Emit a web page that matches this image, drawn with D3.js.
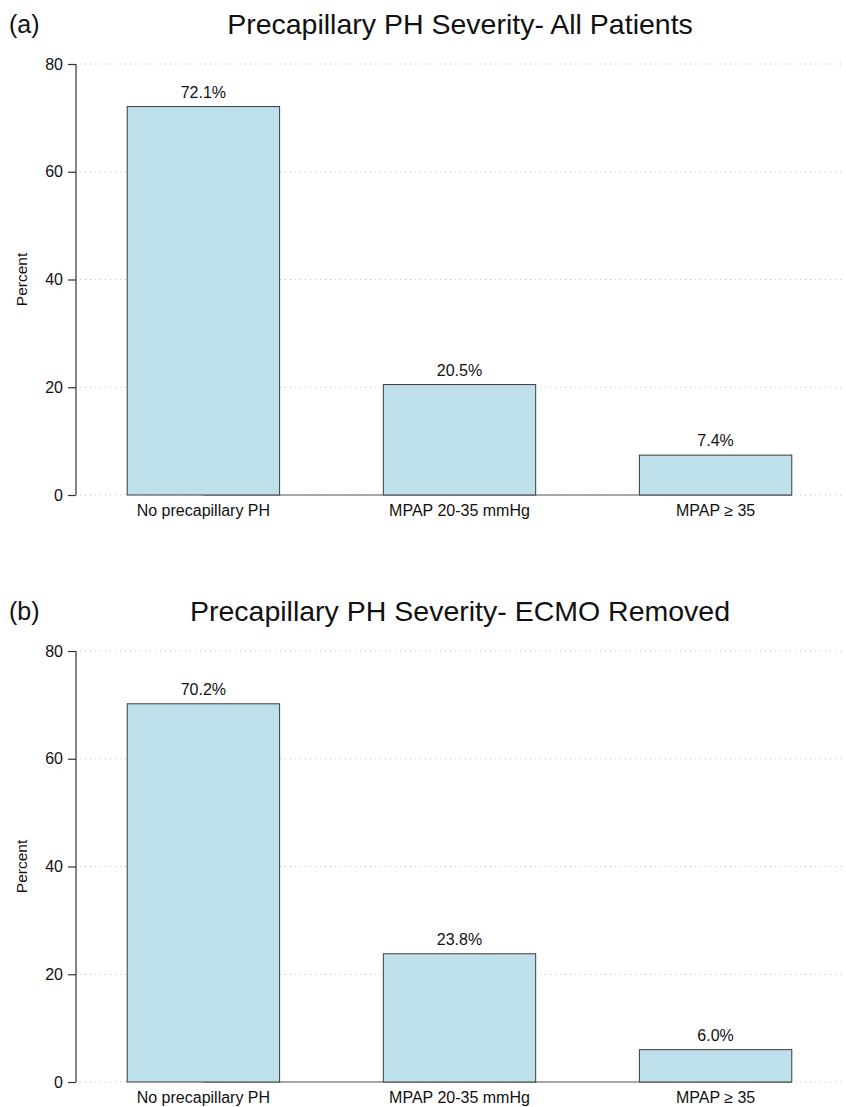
<!DOCTYPE html>
<html>
<head>
<meta charset="utf-8">
<script src="https://cdn.jsdelivr.net/npm/d3@7"></script>
<style>
  html, body { margin: 0; padding: 0; background: #fff; }
  svg { display: block; font-family: "Liberation Sans", Arial, Helvetica, sans-serif; }
</style>
</head>
<body>
<svg id="chart" width="846" height="1107"></svg>
<script>
// Category labels shared by both panels
const categories = ["No precapillary PH", "MPAP 20-35 mmHg", "MPAP \u2265 35"];
// Percent of patients in each severity group
const allPatients = [72.1, 20.5, 7.4];
const ecmoRemoved = [70.2, 23.8, 6.0];
// Y-axis ticks
const yTicks = [0, 20, 40, 60, 80];
// Panel tags and titles
const panelTags = ["(a)", "(b)"];
const panelTitles = ["Precapillary PH Severity- All Patients", "Precapillary PH Severity- ECMO Removed"];
const panelValues = [allPatients, ecmoRemoved];

const svg = d3.select("#chart");

const x = d3.scaleBand()
  .domain(categories)
  .range([76, 843])
  .paddingInner(0.405)
  .paddingOuter(0.2);

function drawPanel(i, top) {
  const values = panelValues[i];
  const g = svg.append("g").attr("transform", `translate(0,${top})`);
  const y = d3.scaleLinear().domain([0, 80]).range([495, 64]);

  // tag and title
  g.append("text").attr("x", 9).attr("y", 33)
    .attr("font-size", 25).attr("fill", "#111").text(panelTags[i]);
  g.append("text").attr("x", 460).attr("y", 34)
    .attr("text-anchor", "middle").attr("font-size", 28.5).attr("fill", "#111")
    .text(panelTitles[i]);

  // dotted gridlines
  g.append("g").selectAll("line").data(yTicks).join("line")
    .attr("x1", 80).attr("x2", 843)
    .attr("y1", d => y(d)).attr("y2", d => y(d))
    .attr("stroke", "#c8c8c8").attr("stroke-width", 1)
    .attr("stroke-dasharray", "1.2,3.8");

  // y axis
  const ax = g.append("g").attr("transform", "translate(76,0)")
    .call(d3.axisLeft(y).tickValues(yTicks).tickSize(8).tickPadding(5));
  ax.select(".domain").attr("stroke", "#333").attr("stroke-width", 1.2)
    .attr("d", `M0,${y(80)}V${y(0)}`);
  ax.selectAll(".tick line").attr("stroke", "#333").attr("stroke-width", 1.2);
  ax.selectAll(".tick text").attr("font-size", 16).attr("fill", "#111")
    .attr("font-family", "Liberation Sans, Arial, sans-serif");

  g.append("text")
    .attr("transform", `translate(27,${(y(0) + y(80)) / 2}) rotate(-90)`)
    .attr("text-anchor", "middle").attr("font-size", 15.5).attr("fill", "#111")
    .text("Percent");

  // baseline
  g.append("line")
    .attr("x1", x(categories[0]) + x.bandwidth() / 2)
    .attr("x2", x(categories[2]) + x.bandwidth())
    .attr("y1", y(0)).attr("y2", y(0))
    .attr("stroke", "#8c8c8c").attr("stroke-width", 1.5);

  // bars
  g.append("g").selectAll("rect").data(categories).join("rect")
    .attr("x", d => x(d))
    .attr("width", x.bandwidth())
    .attr("y", (d, k) => y(values[k]))
    .attr("height", (d, k) => y(0) - y(values[k]))
    .attr("fill", "#bde0eb")
    .attr("stroke", "#3a3a3a").attr("stroke-width", 1);

  // value labels
  g.append("g").selectAll("text").data(categories).join("text")
    .attr("x", d => x(d) + x.bandwidth() / 2)
    .attr("y", (d, k) => y(values[k]) - 9)
    .attr("text-anchor", "middle").attr("font-size", 16).attr("fill", "#111")
    .text((d, k) => values[k].toFixed(1) + "%");

  // category labels
  g.append("g").selectAll("text").data(categories).join("text")
    .attr("x", d => x(d) + x.bandwidth() / 2)
    .attr("y", y(0) + 21)
    .attr("text-anchor", "middle").attr("font-size", 16).attr("fill", "#111")
    .text(d => d);
}

drawPanel(0, 0);
drawPanel(1, 587);
</script>
</body>
</html>
